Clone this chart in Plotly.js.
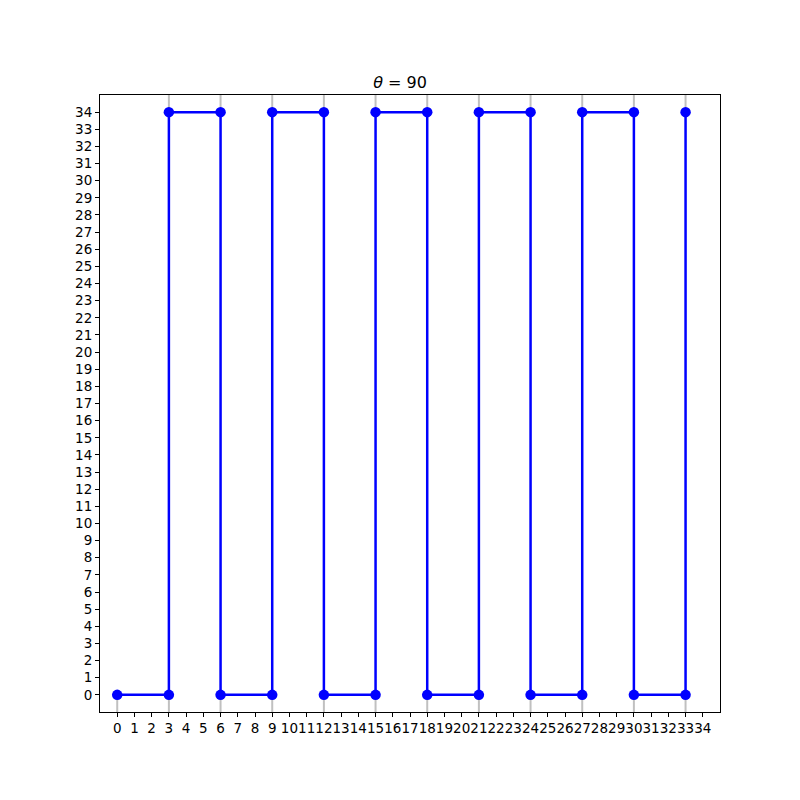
<!DOCTYPE html>
<html>
<head>
<meta charset="utf-8">
<script src="https://cdn.plot.ly/plotly-3.0.1.min.js"></script>
<style>html,body{margin:0;padding:0;background:#fff;}#chart{width:800px;height:800px;}</style>
</head>
<body>
<div id="chart"></div>
<script>
const xValues = [0, 3, 3, 6, 6, 9, 9, 12, 12, 15, 15, 18, 18, 21, 21, 24, 24, 27, 27, 30, 30, 33, 33];
const yValues = [0, 0, 34, 34, 0, 0, 34, 34, 0, 0, 34, 34, 0, 0, 34, 34, 0, 0, 34, 34, 0, 0, 34];
const tickValues = Array.from({length: 35}, (_, i) => i);
const axisRange = [-1, 35];
const titleText = '<i>θ</i> = 90';

const font = {family: 'DejaVu Sans, sans-serif', size: 13.5, color: '#000'};

// gray guide segments from each point to the nearer plot edge
const guideX = [], guideY = [];
xValues.forEach((x, i) => {
  const y = yValues[i];
  const edge = y > (axisRange[0] + axisRange[1]) / 2 ? axisRange[1] : axisRange[0];
  guideX.push(x, x, null);
  guideY.push(y, edge, null);
});

const traces = [
  {
    x: guideX, y: guideY, type: 'scatter', mode: 'lines',
    line: {color: '#c0c0c0', width: 2}, showlegend: false, hoverinfo: 'none', connectgaps: false
  },
  {
    x: xValues, y: yValues, type: 'scatter', mode: 'lines+markers',
    line: {color: '#0000ff', width: 2.5},
    marker: {color: '#0000ff', size: 10.5},
    showlegend: false, hoverinfo: 'none'
  }
];

const layout = {
  width: 800, height: 800,
  margin: {l: 100, r: 80, t: 95, b: 88},
  paper_bgcolor: '#fff', plot_bgcolor: '#fff',
  font: font,
  title: {text: titleText, font: {family: 'DejaVu Sans, sans-serif', size: 16, color: '#000'}, x: 0.5, xanchor: 'center', y: 1 - 82/800, yanchor: 'middle'},
  xaxis: {
    range: axisRange, tickmode: 'array', tickvals: tickValues, ticktext: tickValues.map(String),
    showgrid: false, zeroline: false, showline: true, linecolor: '#000', linewidth: 1, mirror: true,
    ticks: 'outside', ticklen: 4, tickwidth: 1, tickcolor: '#000', tickfont: font, tickangle: 0
  },
  yaxis: {
    range: axisRange, tickmode: 'array', tickvals: tickValues, ticktext: tickValues.map(String),
    showgrid: false, zeroline: false, showline: true, linecolor: '#000', linewidth: 1, mirror: true,
    ticks: 'outside', ticklen: 4, tickwidth: 1, tickcolor: '#000', tickfont: font
  }
};

Plotly.newPlot('chart', traces, layout, {staticPlot: true});
</script>
</body>
</html>
